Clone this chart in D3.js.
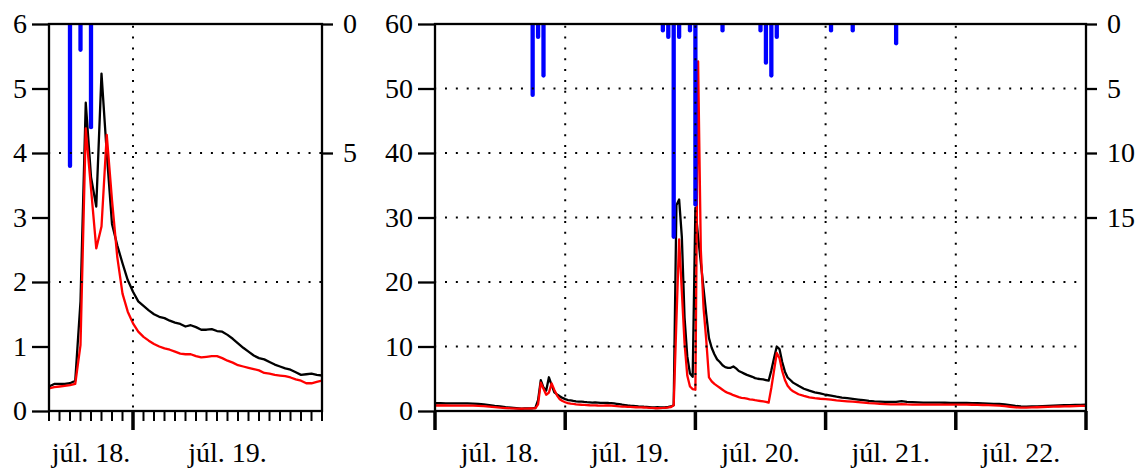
<!DOCTYPE html>
<html>
<head>
<meta charset="utf-8">
<script src="https://cdn.jsdelivr.net/npm/d3@7"></script>
<style>
  html, body { margin: 0; padding: 0; background: #fff; }
  svg { display: block; }
</style>
</head>
<body>
<svg id="chart" width="1142" height="468"></svg>
<script>
// Time stamps: hours since 18 July 00:00
const hours = [
  0,1,2,3,4,5,6,7,8,9,10,11,12,13,14,15,
  16,16.5,17,17.5,18,18.5,19,19.5,20,20.5,21,21.5,22,22.5,23,23.5,24,24.5,25,25.5,26,26.5,27,27.5,
  28,28.5,29,29.5,30,30.5,31,31.5,32,32.5,33,33.5,34,34.5,35,35.5,36,36.5,37,37.5,38,38.5,39,39.5,
  40,40.5,41,41.5,42,
  42.5,43,43.5,44,44.5,45,45.5,46,46.5,47,47.5,48,48.5,49,49.5,50,50.5,51,51.5,52,52.5,53,53.5,54,
  54.5,55,55.5,56,56.5,57,57.5,58,58.5,59,59.5,60,60.5,61,61.5,62,62.5,63,63.5,64,64.5,65,65.5,66,
  67,68,69,70,71,72,73,74,75,76,77,78,79,80,81,82,83,84,85,86,87,88,89,90,91,92,93,94,95,96,
  97,98,99,100,101,102,103,104,105,106,107,108,109,110,111,112,113,114,115,116,117,118,119,120
];

// Discharge, measured (black)
const measured = [
  1.20,1.20,1.19,1.19,1.18,1.18,1.17,1.15,1.10,1.02,0.92,0.80,0.70,0.60,0.52,0.45,
  0.38,0.42,0.42,0.42,0.43,0.47,1.70,4.78,3.63,3.17,5.23,4.00,2.90,2.57,2.29,2.03,1.85,1.70,1.63,1.56,
  1.50,1.46,1.44,1.40,1.37,1.35,1.31,1.33,1.30,1.26,1.26,1.27,1.24,1.23,1.18,1.12,1.05,0.98,0.92,0.86,
  0.82,0.80,0.76,0.72,0.69,0.66,0.64,0.60,0.56,0.57,0.58,0.56,0.55,
  0.58,0.62,0.70,0.90,31.9,32.8,27.0,14.5,8.5,5.8,5.3,31.5,27.0,23.0,19.0,15.0,11.3,9.8,8.8,8.0,
  7.6,7.1,6.8,6.7,6.7,6.9,6.6,6.2,6.0,5.8,5.6,5.45,5.3,5.1,5.0,4.95,4.9,4.8,4.7,6.3,8.2,10.0,9.6,7.6,
  6.1,5.2,4.8,4.4,
  3.9,3.45,3.15,2.9,2.72,2.52,2.38,2.22,2.08,1.98,1.88,1.78,1.68,1.58,1.5,1.46,1.42,1.4,1.4,1.52,
  1.42,1.38,1.34,1.3,1.3,1.3,1.29,1.28,1.27,1.26,1.25,1.24,1.22,1.2,1.17,1.14,1.12,1.1,1.02,0.9,
  0.78,0.7,0.68,0.7,0.72,0.76,0.8,0.83,0.86,0.89,0.91,0.93,0.95,0.97
];

// Discharge, simulated (red)
const simulated = [
  0.85,0.85,0.85,0.84,0.84,0.84,0.83,0.82,0.80,0.75,0.68,0.60,0.52,0.46,0.42,0.38,
  0.35,0.37,0.38,0.39,0.40,0.42,1.02,4.38,3.45,2.52,2.86,4.28,3.27,2.39,1.82,1.54,1.36,1.23,1.15,1.09,
  1.04,1.00,0.97,0.95,0.92,0.89,0.88,0.88,0.85,0.83,0.84,0.85,0.85,0.82,0.78,0.75,0.71,0.69,0.67,0.65,
  0.63,0.59,0.58,0.56,0.55,0.54,0.52,0.49,0.47,0.43,0.43,0.45,0.47,
  0.50,0.55,0.62,0.90,14.0,26.6,18.5,10.5,5.5,3.8,3.4,3.3,54.2,25.0,16.0,11.0,5.2,4.6,4.2,3.9,
  3.6,3.3,3.0,2.8,2.65,2.45,2.3,2.15,2.05,1.98,1.9,1.82,1.75,1.68,1.62,1.55,1.5,1.43,1.3,3.6,6.3,9.0,8.2,6.2,
  4.8,3.9,3.4,3.05,
  2.6,2.35,2.12,2.0,1.9,1.83,1.75,1.65,1.57,1.5,1.44,1.38,1.3,1.23,1.18,1.12,1.07,1.03,1.02,1.08,
  1.03,1.0,0.99,0.98,0.98,0.99,1.0,1.0,1.0,1.0,0.99,0.98,0.97,0.95,0.93,0.9,0.88,0.84,0.76,0.66,
  0.56,0.52,0.52,0.55,0.58,0.62,0.65,0.68,0.7,0.72,0.74,0.76,0.78,0.8
];

// Hourly rainfall
const rainHours = [18, 19, 20, 42, 43, 44, 45, 47, 48, 53, 60, 61, 62, 63, 73, 77, 85];
const rainMm    = [5.5, 1.0, 4.0, 0.5, 1.0, 16.5, 1.0, 0.5, 14.0, 0.5, 0.5, 3.0, 4.0, 1.0, 0.5, 0.5, 1.5];

// Calendar days shown on the time axis
const dayStarts = [0, 24, 48, 72, 96, 120];
const dayLabels = ["júl. 18.", "júl. 19.", "júl. 20.", "júl. 21.", "júl. 22."];

// Axis ticks and grid levels per panel
const zoomFlowTicks = [0, 1, 2, 3, 4, 5, 6];
const zoomRainTicks = [0, 5];
const zoomGridLevels = [2, 4];
const fullFlowTicks = [0, 10, 20, 30, 40, 50, 60];
const fullRainTicks = [0, 5, 10, 15];
const fullGridLevels = [10, 20, 30, 40, 50];

const FONT = "'Liberation Serif', 'DejaVu Serif', serif";
const svg = d3.select("#chart");
const plotTop = 24, plotBottom = 411;

const panels = [
  { id: "zoom", x0: 49, x1: 322, t0: 16, t1: 42, flowMax: 6, rainMax: 15,
    flowTicks: zoomFlowTicks, rainTicks: zoomRainTicks, grid: zoomGridLevels, hourTicks: true },
  { id: "full", x0: 435, x1: 1086, t0: 0, t1: 120, flowMax: 60, rainMax: 30,
    flowTicks: fullFlowTicks, rainTicks: fullRainTicks, grid: fullGridLevels, hourTicks: false }
];

const series = hours.map((h, i) => ({ h, m: measured[i], s: simulated[i] }));
const rain = rainHours.map((h, i) => ({ h, v: rainMm[i] }));

const defs = svg.append("defs");

panels.forEach(p => {
  const x = d3.scaleLinear().domain([p.t0, p.t1]).range([p.x0, p.x1]);
  const y = d3.scaleLinear().domain([0, p.flowMax]).range([plotBottom, plotTop]);
  const r = d3.scaleLinear().domain([0, p.rainMax]).range([plotTop, plotBottom]);

  const clipId = "clip-" + p.id;
  defs.append("clipPath").attr("id", clipId)
    .append("rect")
    .attr("x", p.x0).attr("y", plotTop)
    .attr("width", p.x1 - p.x0).attr("height", plotBottom - plotTop);

  const g = svg.append("g");
  const plot = g.append("g").attr("clip-path", `url(#${clipId})`);

  const pts = series.filter(d => d.h >= p.t0 - 1 && d.h <= p.t1 + 1);

  // discharge lines
  plot.append("path").datum(pts)
    .attr("d", d3.line().x(d => x(d.h)).y(d => y(d.m)))
    .attr("fill", "none").attr("stroke", "#000").attr("stroke-width", 2.3)
    .attr("stroke-linejoin", "round");
  plot.append("path").datum(pts)
    .attr("d", d3.line().x(d => x(d.h)).y(d => y(d.s)))
    .attr("fill", "none").attr("stroke", "#ff0000").attr("stroke-width", 2.3)
    .attr("stroke-linejoin", "round");

  // rainfall bars hanging from the top
  plot.selectAll("line.rain")
    .data(rain.filter(d => d.h >= p.t0 && d.h < p.t1))
    .join("line")
    .attr("class", "rain")
    .attr("x1", d => x(d.h)).attr("x2", d => x(d.h))
    .attr("y1", r(0)).attr("y2", d => r(d.v))
    .attr("stroke", "#0000ff").attr("stroke-width", 4.3)
    .attr("stroke-linecap", "round");

  // dotted grid
  const gridStyle = sel => sel.attr("stroke", "#000").attr("stroke-width", 2)
    .attr("stroke-dasharray", "2 8.85");
  g.selectAll("line.hgrid").data(p.grid).join("line")
    .attr("class", "hgrid")
    .attr("x1", p.x0).attr("x2", p.x1)
    .attr("y1", d => y(d)).attr("y2", d => y(d))
    .call(gridStyle).attr("stroke-dashoffset", 0.85);
  const dayLines = dayStarts.filter(t => t > p.t0 && t < p.t1);
  g.selectAll("line.vgrid").data(dayLines).join("line")
    .attr("class", "vgrid")
    .attr("x1", d => x(d)).attr("x2", d => x(d))
    .attr("y1", plotTop).attr("y2", plotBottom)
    .call(gridStyle).attr("stroke-dashoffset", -1.7);

  // frame
  g.append("rect")
    .attr("x", p.x0).attr("y", plotTop)
    .attr("width", p.x1 - p.x0).attr("height", plotBottom - plotTop)
    .attr("fill", "none").attr("stroke", "#000").attr("stroke-width", 2.3);

  // discharge axis (left)
  const ax = g.append("g").attr("transform", `translate(${p.x0},0)`)
    .call(d3.axisLeft(y).tickValues(p.flowTicks).tickSize(17).tickPadding(5).tickSizeOuter(0)
      .tickFormat(d3.format("d")));
  ax.select(".domain").remove();
  ax.attr("font-size", 28).attr("font-family", FONT);
  ax.selectAll(".tick line").attr("stroke-width", 2.3);

  // rainfall axis (right)
  const ar = g.append("g").attr("transform", `translate(${p.x1},0)`)
    .call(d3.axisRight(r).tickValues(p.rainTicks).tickSize(11).tickPadding(10).tickSizeOuter(0)
      .tickFormat(d3.format("d")));
  ar.select(".domain").remove();
  ar.attr("font-size", 28).attr("font-family", FONT);
  ar.selectAll(".tick line").attr("stroke-width", 2.3);

  // time axis ticks
  if (p.hourTicks) {
    const hourly = d3.range(Math.ceil(p.t0), Math.floor(p.t1) + 1).filter(t => t % 24 !== 0);
    g.selectAll("line.hour").data(hourly).join("line")
      .attr("x1", d => x(d)).attr("x2", d => x(d))
      .attr("y1", plotBottom).attr("y2", plotBottom + 10)
      .attr("stroke", "#000").attr("stroke-width", 2);
  }
  const dayTicks = dayStarts.filter(t => t >= p.t0 && t <= p.t1);
  g.selectAll("line.day").data(dayTicks).join("line")
    .attr("x1", d => x(d)).attr("x2", d => x(d))
    .attr("y1", plotBottom).attr("y2", plotBottom + 19)
    .attr("stroke", "#000").attr("stroke-width", 3.5);

  // day labels centred on the visible part of each day
  const labels = dayLabels.map((lab, i) => {
    const a = Math.max(dayStarts[i], p.t0), b = Math.min(dayStarts[i] + 24, p.t1);
    return { lab, a, b };
  }).filter(d => d.b > d.a);
  g.selectAll("text.day").data(labels).join("text")
    .attr("class", "day")
    .attr("x", d => x((d.a + d.b) / 2))
    .attr("y", 462)
    .attr("text-anchor", "middle")
    .attr("font-family", FONT)
    .attr("font-size", 28)
    .attr("fill", "#000")
    .text(d => d.lab);
});
</script>
</body>
</html>
